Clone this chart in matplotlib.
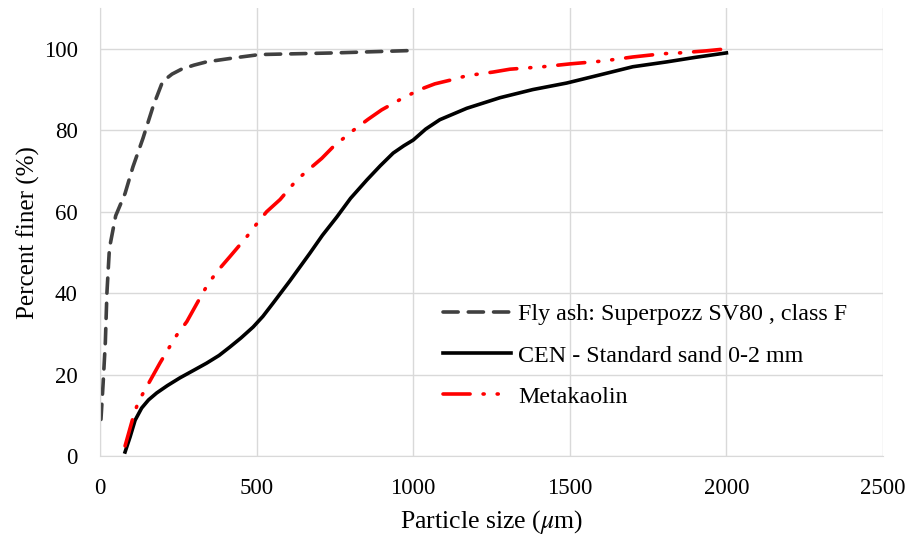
import numpy as np
import matplotlib.pyplot as plt

plt.rcParams['font.family'] = ['Liberation Serif', 'DejaVu Serif']
plt.rcParams['mathtext.fontset'] = 'stix'

# Fly ash: Superpozz SV80, class F
fly_x = [3, 10, 17, 22, 30, 50, 80, 105, 137, 170, 200, 230, 260, 300, 340, 430, 510, 750, 1000]
fly_y = [9, 18, 28, 40, 51, 59, 64.5, 71, 78, 86, 92, 93.8, 95, 96, 96.8, 97.8, 98.6, 99.0, 99.6]

# CEN - Standard sand 0-2 mm
sand_x = [80, 96, 112, 133, 155, 181, 215, 255, 300, 340, 380, 415, 450, 489, 520, 553, 606,
          670, 710, 756, 800, 852, 895, 936, 970, 1000, 1040, 1085, 1171, 1277, 1382, 1490,
          1596, 1701, 1810, 1900, 2000]
sand_y = [1, 4.7, 8.8, 11.8, 13.8, 15.5, 17.3, 19.2, 21.1, 22.8, 24.7, 26.8, 29.0, 31.7, 34.3,
          37.6, 43, 49.8, 54.2, 58.7, 63.3, 67.8, 71.3, 74.4, 76.2, 77.6, 80.3, 82.6, 85.4,
          88, 90, 91.6, 93.6, 95.6, 96.8, 97.9, 99]

# Metakaolin
meta_x = [80, 106, 122, 149, 191, 218, 245, 277, 319, 345, 378, 415, 468, 500, 532, 575,
          628, 670, 708, 745, 809, 856, 899, 957, 1021, 1069, 1123, 1171, 1255, 1309,
          1414, 1500, 1605, 1701, 1797, 1850, 1935, 2000]
meta_y = [2.5, 9.6, 13.3, 17, 22.8, 26.3, 29.7, 33, 38.8, 42.3, 45.7, 49, 53.8, 57, 60, 63,
          67.8, 70.6, 73.1, 76, 80, 82.7, 85, 87.5, 90, 91.4, 92.4, 93.4, 94.3, 95,
          95.6, 96.3, 97, 98, 98.8, 99, 99.5, 100]

fig = plt.figure(figsize=(9.06, 5.41), dpi=100)
ax = fig.add_axes([0.1104, 0.157, 0.8642, 0.828])

ax.plot(fly_x, fly_y, color='#404040', lw=2.6, dashes=(4.2, 2.8),
        solid_joinstyle='round', dash_capstyle='round', dash_joinstyle='round',
        label='Fly ash: Superpozz SV80 , class F')
ax.plot(sand_x, sand_y, color='black', lw=2.6, solid_joinstyle='round',
        label='CEN - Standard sand 0-2 mm')
ax.plot(meta_x, meta_y, color='red', lw=2.6, dashes=(7.5, 3.6, 0.3, 3.6, 0.3, 3.6),
        dash_capstyle='round', dash_joinstyle='round', label='Metakaolin')

ax.set_xlim(0, 2500)
ax.set_ylim(0, 110)
ax.set_xticks(np.arange(0, 2501, 500))
ax.set_yticks(np.arange(0, 101, 20))
ax.grid(True, color='#d9d9d9', lw=1)
ax.set_axisbelow(True)
for s in ['top', 'right']:
    ax.spines[s].set_visible(False)
for s in ['left', 'bottom']:
    ax.spines[s].set_color('#d9d9d9')
ax.tick_params(length=0, labelsize=16.5, pad=16)
ax.tick_params(axis='y', pad=16)

ax.set_xlabel(r'Particle size ($\mu$m)', fontsize=18.5, labelpad=6)
ax.set_ylabel('Percent finer (%)', fontsize=18, labelpad=3)

leg = ax.legend(loc='lower left', bbox_to_anchor=(0.41, 0.06), frameon=False,
                fontsize=17.3, handlelength=2.85, handletextpad=0.3, labelspacing=0.8)

fig.savefig('out.png', dpi=100)
